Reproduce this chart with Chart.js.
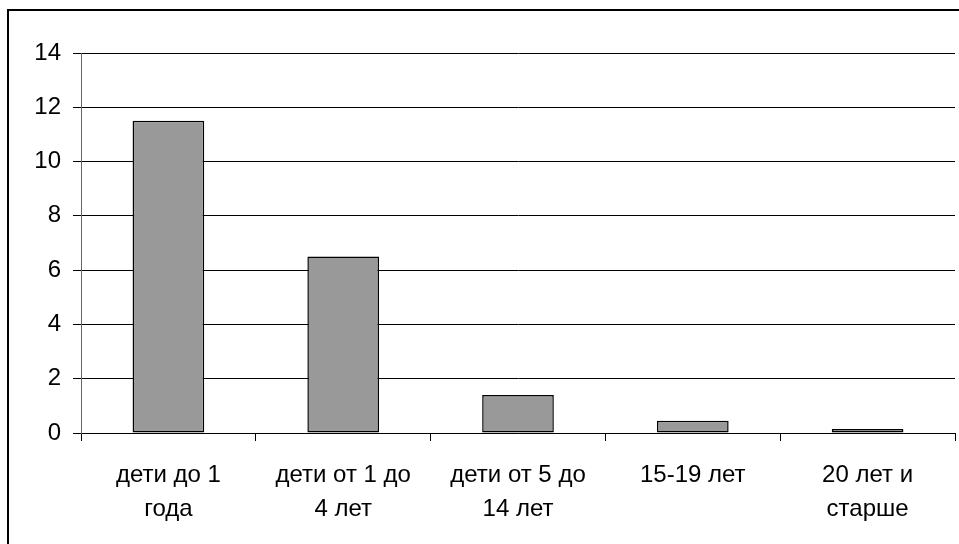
<!DOCTYPE html>
<html>
<head>
<meta charset="utf-8">
<script src="https://cdn.jsdelivr.net/npm/chart.js@4/dist/chart.umd.min.js"></script>
<style>
  html, body { margin: 0; padding: 0; background: #fff; overflow: hidden; width: 959px; height: 544px; }
  #frame { position: absolute; left: 7px; top: 9px; width: 1000px; height: 600px; border-left: 2px solid #000; border-top: 2px solid #000; }
  #c { position: absolute; left: 0; top: 0; }
</style>
</head>
<body>
<div id="frame"></div>
<canvas id="c" width="959" height="544"></canvas>
<script>
const categories = [["дети до 1", "года"], ["дети от 1 до", "4 лет"], ["дети от 5 до", "14 лет"], "15-19 лет", ["20 лет и", "старше"]];
const values = [11.5, 6.5, 1.4, 0.45, 0.15];
const yMin = 0;
const yMax = 14;
const yStep = 2;

const FONT = { family: "'Liberation Sans', Arial, sans-serif", size: 24 };

new Chart(document.getElementById('c'), {
  type: 'bar',
  data: {
    labels: categories,
    datasets: [{
      data: values,
      backgroundColor: '#999999',
      borderColor: '#000000',
      borderWidth: 1.5,
      borderSkipped: false,
      categoryPercentage: 1.0,
      barPercentage: 0.41
    }]
  },
  options: {
    responsive: false,
    animation: false,
    devicePixelRatio: 1,
    layout: { padding: { top: 53, right: 4, left: 0, bottom: 0 } },
    plugins: { legend: { display: false }, tooltip: { enabled: false } },
    scales: {
      x: {
        offset: true,
        grid: { display: true, drawOnChartArea: false, drawTicks: true, tickLength: 8, color: '#000', offset: true },
        border: { display: true, color: '#000', width: 1 },
        ticks: { color: '#000', font: { ...FONT, lineHeight: '34px' }, padding: 17, maxRotation: 0, autoSkip: false },
        afterFit: (s) => { s.height = 111; }
      },
      y: {
        min: yMin, max: yMax,
        grid: { color: '#000', lineWidth: 1, tickLength: 8, drawTicks: true },
        border: { display: true, color: '#666', width: 1 },
        ticks: { stepSize: yStep, color: '#000', font: FONT, padding: 12 },
        afterFit: (s) => { s.width = 81; }
      }
    }
  }
});
</script>
</body>
</html>
